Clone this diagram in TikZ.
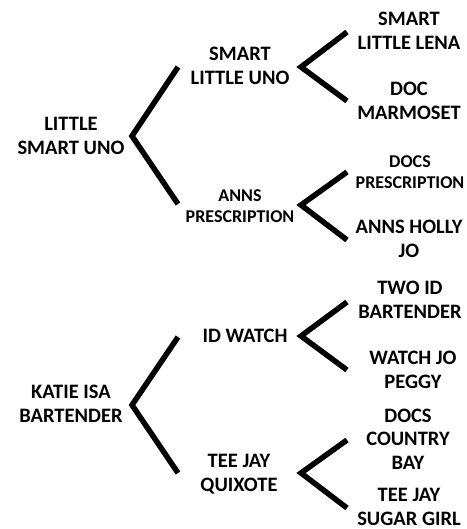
\documentclass[tikz,border=0pt]{standalone}
\usepackage{fontspec}
\setmainfont{Carlito}
\begin{document}
\begin{tikzpicture}[x=1pt,y=-1pt,
  lbl/.style={font=\bfseries\fontsize{20.5}{23.5}\selectfont, align=center, inner sep=0pt},
  slbl/.style={font=\bfseries\fontsize{18}{21}\selectfont, align=center, inner sep=0pt},
  brk/.style={line width=5.5pt, line join=miter}]
\useasboundingbox (0,0) rectangle (466,529);
% level 0
\node[lbl] (r1) at (71,136) {LITTLE\\SMART UNO};
\node[lbl] (r2) at (71,404) {KATIE ISA\\BARTENDER};
% level 1
\node[lbl] (a1) at (240,66) {SMART\\LITTLE UNO};
\node[slbl] (a2) at (240,206) {ANNS\\PRESCRIPTION};
\node[lbl] (a3) at (245,336) {ID WATCH};
\node[lbl] (a4) at (239,474) {TEE JAY\\QUIXOTE};
% level 2
\node[lbl] (b1) at (409,31) {SMART\\LITTLE LENA};
\node[lbl] (b2) at (409,101) {DOC\\MARMOSET};
\node[slbl] (b3) at (410,172) {DOCS\\PRESCRIPTION};
\node[lbl] (b4) at (409,239) {ANNS HOLLY\\JO};
\node[lbl] (b5) at (410,300) {TWO ID\\BARTENDER};
\node[lbl] (b6) at (413,370) {WATCH JO\\PEGGY};
\node[lbl] (b7) at (408,439) {DOCS\\COUNTRY\\BAY};
\node[lbl] (b8) at (409,507) {TEE JAY\\SUGAR GIRL};
% bracket points
\coordinate (v1) at (132,136); \coordinate (v1t) at (178,67); \coordinate (v1b) at (178,204);
\coordinate (v2) at (132,405); \coordinate (v2t) at (178,337); \coordinate (v2b) at (178,473);
\coordinate (w1) at (301,67); \coordinate (w1t) at (347,32); \coordinate (w1b) at (347,101);
\coordinate (w2) at (301,205); \coordinate (w2t) at (347,172); \coordinate (w2b) at (347,240);
\coordinate (w3) at (301,336); \coordinate (w3t) at (347,302); \coordinate (w3b) at (347,370);
\coordinate (w4) at (301,473); \coordinate (w4t) at (347,440); \coordinate (w4b) at (347,508);
\draw[brk] (v1t) -- (v1) -- (v1b);
\draw[brk] (v2t) -- (v2) -- (v2b);
\draw[brk] (w1t) -- (w1) -- (w1b);
\draw[brk] (w2t) -- (w2) -- (w2b);
\draw[brk] (w3t) -- (w3) -- (w3b);
\draw[brk] (w4t) -- (w4) -- (w4b);
\end{tikzpicture}
\end{document}
